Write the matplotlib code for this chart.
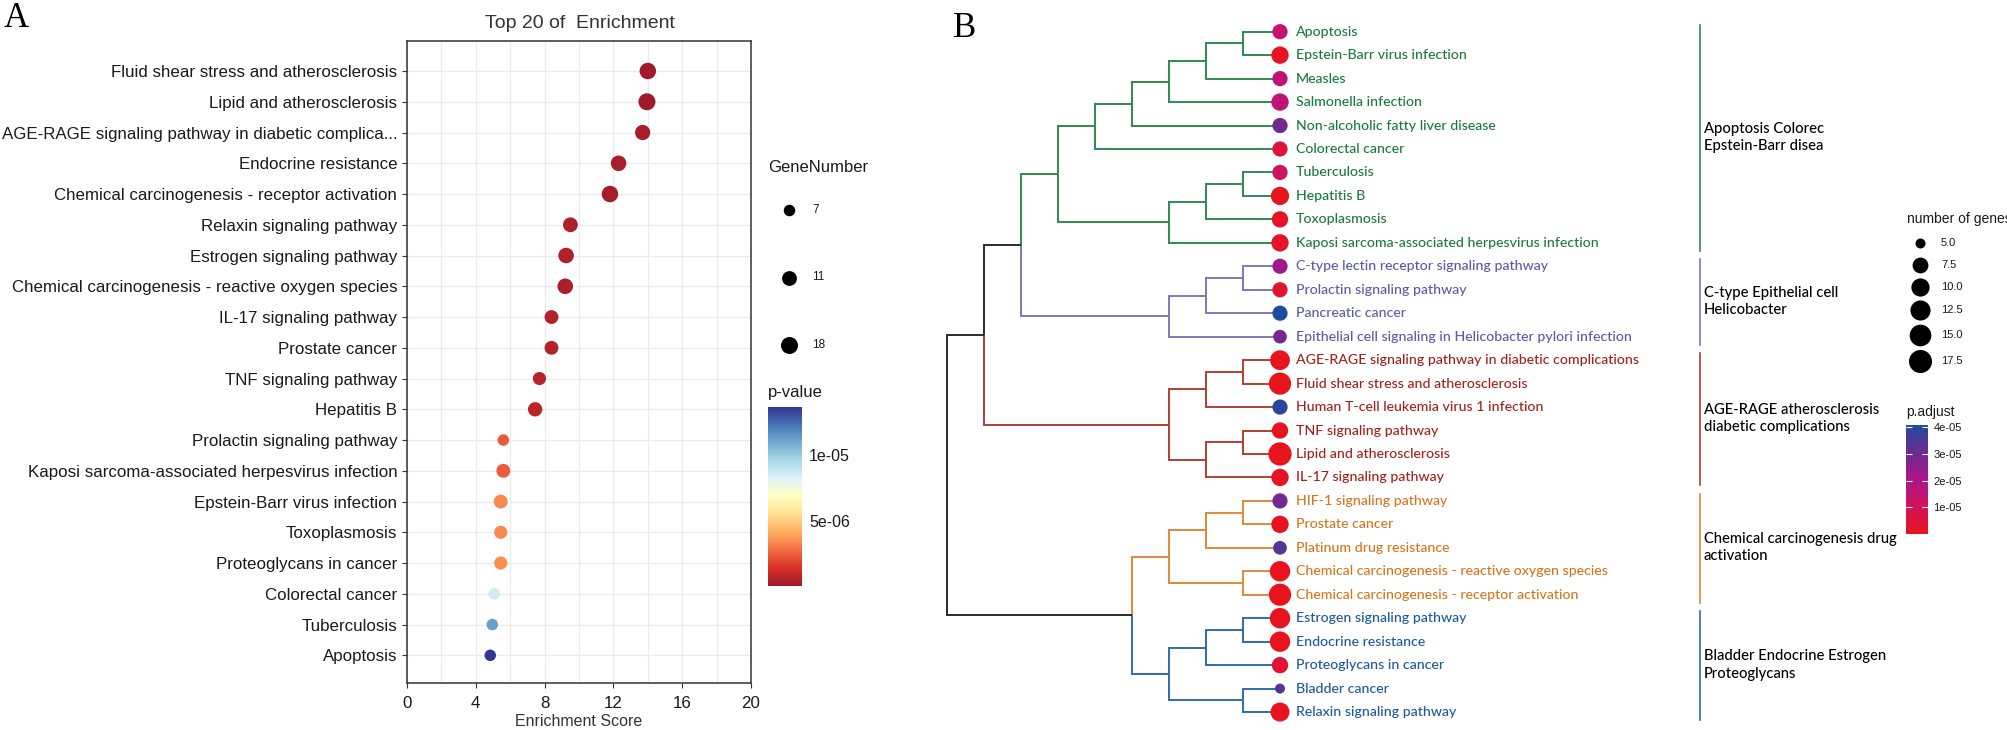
import numpy as np
import matplotlib
matplotlib.use("Agg")
import matplotlib.pyplot as plt
from matplotlib.colors import LinearSegmentedColormap, Normalize
from matplotlib.cm import ScalarMappable

W, H, DPI = 2007, 730, 100

# ---------------- Panel A data ----------------
terms_a = ["Fluid shear stress and atherosclerosis", "Lipid and atherosclerosis",
           "AGE-RAGE signaling pathway in diabetic complica...", "Endocrine resistance",
           "Chemical carcinogenesis - receptor activation", "Relaxin signaling pathway",
           "Estrogen signaling pathway", "Chemical carcinogenesis - reactive oxygen species",
           "IL-17 signaling pathway", "Prostate cancer", "TNF signaling pathway", "Hepatitis B",
           "Prolactin signaling pathway", "Kaposi sarcoma-associated herpesvirus infection",
           "Epstein-Barr virus infection", "Toxoplasmosis", "Proteoglycans in cancer",
           "Colorectal cancer", "Tuberculosis", "Apoptosis"]
score_a = [14.0, 13.95, 13.7, 12.3, 11.8, 9.5, 9.25, 9.2, 8.4, 8.4, 7.7, 7.45,
           5.6, 5.6, 5.45, 5.45, 5.45, 5.07, 4.96, 4.84]
pvalue_a = [1.0e-7, 1.5e-7, 3e-7, 4e-7, 3e-7, 5e-7, 5e-7, 4.5e-7, 6e-7, 6e-7, 7e-7, 8e-7,
            2.4e-6, 2.4e-6, 3.4e-6, 3.4e-6, 3.5e-6, 8.6e-6, 1.12e-5, 1.36e-5]
genes_a = [16, 18, 12, 13, 16, 11, 13, 13, 9, 9, 8, 10, 7, 9, 9, 8, 8, 7, 7, 7]
size_breaks_a = [7, 11, 18]
pvalue_ticks_a = [5e-06, 1e-05]
pvalue_ticklabels_a = ["5e-06", "1e-05"]
xticks_a = [0, 4, 8, 12, 16, 20]

# ---------------- Panel B data ----------------
leaves_b = ["Apoptosis", "Epstein-Barr virus infection", "Measles", "Salmonella infection",
            "Non-alcoholic fatty liver disease", "Colorectal cancer", "Tuberculosis",
            "Hepatitis B", "Toxoplasmosis", "Kaposi sarcoma-associated herpesvirus infection",
            "C-type lectin receptor signaling pathway", "Prolactin signaling pathway",
            "Pancreatic cancer", "Epithelial cell signaling in Helicobacter pylori infection",
            "AGE-RAGE signaling pathway in diabetic complications",
            "Fluid shear stress and atherosclerosis", "Human T-cell leukemia virus 1 infection",
            "TNF signaling pathway", "Lipid and atherosclerosis", "IL-17 signaling pathway",
            "HIF-1 signaling pathway", "Prostate cancer", "Platinum drug resistance",
            "Chemical carcinogenesis - reactive oxygen species",
            "Chemical carcinogenesis - receptor activation", "Estrogen signaling pathway",
            "Endocrine resistance", "Proteoglycans in cancer", "Bladder cancer",
            "Relaxin signaling pathway"]
genes_b = [7, 9, 7, 9, 7, 7, 7, 10, 8, 9,
           7, 7, 7, 6,
           12, 16, 7, 8, 18, 9,
           7, 9, 6, 13, 16,
           13, 13, 8, 5, 11]
padj_b = [1.4e-5, 8e-7, 1.5e-5, 1.6e-5, 2.9e-5, 5e-6, 1.15e-5, 5e-7, 2e-6, 2.5e-6,
          2.2e-5, 3e-6, 4.07e-5, 2.9e-5,
          3e-7, 1e-7, 3.9e-5, 9e-7, 2e-7, 1.2e-6,
          2.9e-5, 1e-6, 3.4e-5, 6e-7, 4e-7,
          6e-7, 4e-7, 4e-6, 3.4e-5, 6e-7]
cluster_of_leaf_b = [0] * 10 + [1] * 4 + [2] * 6 + [3] * 5 + [4] * 5
cluster_labels_b = ["Apoptosis Colorec\nEpstein-Barr disea",
                    "C-type Epithelial cell\nHelicobacter",
                    "AGE-RAGE atherosclerosis\ndiabetic complications",
                    "Chemical carcinogenesis drug\nactivation",
                    "Bladder Endocrine Estrogen\nProteoglycans"]
# hierarchical merges: (child a, child b, level); new node ids start at len(leaves_b)
merges_b = [(0, 1, 1), (30, 2, 2), (31, 3, 3), (32, 4, 4), (33, 5, 5),
            (6, 7, 1), (35, 8, 2), (36, 9, 3), (34, 37, 6),
            (10, 11, 1), (39, 12, 2), (40, 13, 3), (38, 41, 7),
            (14, 15, 1), (43, 16, 2), (17, 18, 1), (45, 19, 2), (44, 46, 3), (42, 47, 8),
            (20, 21, 1), (49, 22, 2), (23, 24, 1), (50, 51, 3),
            (25, 26, 1), (53, 27, 2), (28, 29, 1), (54, 55, 3), (52, 56, 4), (48, 57, 9)]
size_breaks_b = [5.0, 7.5, 10.0, 12.5, 15.0, 17.5]
padj_ticks_b = [1e-05, 2e-05, 3e-05, 4e-05]
padj_ticklabels_b = ["1e-05", "2e-05", "3e-05", "4e-05"]

# ---------------- styles ----------------
SANS = ["Liberation Sans", "DejaVu Sans"]
HUM = ["Lato", "DejaVu Sans"]
SERIF = ["Liberation Serif", "DejaVu Serif"]
line_colors_b = ["#2E8A50", "#7C7ABB", "#B23E33", "#E08A36", "#2D6DAD"]
text_colors_b = ["#1B7A3E", "#5B5BA5", "#A1221D", "#D4761E", "#1B5A9D"]
padj_cmap = LinearSegmentedColormap.from_list(
    "padj", [(0.0, "#E8141C"), (0.33, "#C8126C"), (0.55, "#A0198E"),
             (0.75, "#6A2D90"), (1.0, "#1F4B9E")])
cmap_a = LinearSegmentedColormap.from_list(
    "rdylbu_a", ["#9E1A2C", "#D73027", "#F46D43", "#FDAE61", "#FEE090", "#FFFFBF",
                 "#E0F3F8", "#ABD9E9", "#74ADD1", "#4575B4", "#313695"])

plt.rcParams["font.family"] = SANS

fig = plt.figure(figsize=(W / DPI, H / DPI), dpi=DPI)
fig.patch.set_facecolor("white")


def rect(x0, y0, x1, y1):
    return [x0 / W, 1 - y1 / H, (x1 - x0) / W, (y1 - y0) / H]


def pt2(d_px):
    return (d_px * 72.0 / DPI) ** 2


renderer = fig.canvas.get_renderer()


def fit_size(s, family, target_px, base=10.0, weight="normal"):
    t = fig.text(0, 0, s, fontsize=base, family=family, weight=weight)
    w = t.get_window_extent(renderer).width
    t.remove()
    return base * target_px / w


# pixel overlay for legends / labels
ax_px = fig.add_axes([0, 0, 1, 1])
ax_px.set_xlim(0, W)
ax_px.set_ylim(H, 0)
ax_px.axis("off")

# ================= Panel A =================
ax_a = fig.add_axes(rect(407, 41, 751, 683))
ya = np.arange(len(terms_a))
g_a = np.array(genes_a, float)
gmin_a, gmax_a = min(size_breaks_a), max(size_breaks_a)


def dia_a(g):
    return 11.5 + 5.5 * np.sqrt((np.asarray(g, float) - gmin_a) / (gmax_a - gmin_a))


norm_a = Normalize(min(pvalue_a), max(pvalue_a))
ax_a.scatter(score_a, ya, s=pt2(dia_a(g_a)), c=pvalue_a, cmap=cmap_a, norm=norm_a,
             linewidths=0, zorder=3)
ax_a.set_xlim(0, 20)
ax_a.set_ylim(19.9, -0.976)
ax_a.set_xticks(xticks_a)
ax_a.set_xticks(np.arange(2, 20, 4), minor=True)
ax_a.set_yticks(ya)
ax_a.set_yticklabels(terms_a)
ax_a.grid(which="both", axis="x", color="#EBEBEB", lw=0.9, zorder=0)
ax_a.grid(which="major", axis="y", color="#EBEBEB", lw=0.9, zorder=0)
ax_a.set_axisbelow(True)
for sp in ax_a.spines.values():
    sp.set_color("#333333")
    sp.set_linewidth(1.1)
ax_a.tick_params(which="major", length=3.5, width=0.8, color="#333333",
                 labelcolor="#1A1A1A", labelsize=12.2, pad=3.5)
ax_a.tick_params(axis="x", which="major", pad=5.5)
ax_a.tick_params(which="minor", length=0)
fig.text(580 / W, 1 - 24 / H, "Top 20 of  Enrichment", ha="center", va="center",
         fontsize=14, color="#333333")
fig.text(579 / W, 1 - 721 / H, "Enrichment Score", ha="center", va="center",
         fontsize=11.5, color="#333333")
fig.text(4 / W, 1 - 27 / H, "A", fontsize=25, family=SERIF, va="baseline", ha="left")

# size legend A
ax_px.text(768, 167, "GeneNumber", fontsize=12, va="center", ha="left", color="#1A1A1A")
for k, b in enumerate(size_breaks_a):
    yy = 210 + 67.5 * k
    ax_px.scatter([789], [yy], s=pt2(dia_a(b)), color="black", linewidths=0)
    ax_px.text(812, yy, str(b), fontsize=8.5, va="center", ha="left", color="#1A1A1A")

# colorbar A
cax_a = fig.add_axes(rect(768, 407, 802, 586))
cb_a = fig.colorbar(ScalarMappable(norm=norm_a, cmap=cmap_a), cax=cax_a)
cb_a.outline.set_visible(False)
cb_a.set_ticks(pvalue_ticks_a)
cb_a.set_ticklabels(pvalue_ticklabels_a)
cax_a.tick_params(length=0, labelsize=11.5, pad=5, labelcolor="#1A1A1A")
ax_px.text(768, 392, "p-value", fontsize=12, va="center", ha="left", color="#1A1A1A")

# ================= Panel B =================
ax_b = fig.add_axes([900 / W, 0, (W - 900) / W, 1])
ax_b.axis("off")
# level -> pixel: x = 1280 - 37*level ; leaf i -> y = 31.7 + 23.46*i
ax_b.set_xlim((1280 - 900) / 37.0, (1280 - W) / 37.0)
ax_b.set_ylim((H - 31.7) / 23.46, (0 - 31.7) / 23.46)

n = len(leaves_b)
node_x = {i: 0.0 for i in range(n)}
node_y = {i: float(i) for i in range(n)}
node_leaves = {i: {i} for i in range(n)}
children = {}
for k, (a, b, lev) in enumerate(merges_b):
    nid = n + k
    node_x[nid] = float(lev)
    node_y[nid] = (node_y[a] + node_y[b]) / 2.0
    node_leaves[nid] = node_leaves[a] | node_leaves[b]
    children[nid] = (a, b)


def node_color(nid):
    cl = {cluster_of_leaf_b[l] for l in node_leaves[nid]}
    return line_colors_b[cl.pop()] if len(cl) == 1 else "#2B2B2B"


for nid, (a, b) in children.items():
    for c in (a, b):
        ax_b.plot([node_x[nid], node_x[nid], node_x[c]], [node_y[nid], node_y[c], node_y[c]],
                  color=node_color(c), lw=1.4, solid_capstyle="butt",
                  solid_joinstyle="miter", zorder=1)

gmin_b, gmax_b = 5.0, 18.0


def dia_b(g):
    return 10.0 + 13.3 * np.sqrt((np.asarray(g, float) - gmin_b) / (gmax_b - gmin_b))


norm_b = Normalize(min(padj_b), max(padj_b))
yb = np.arange(n)
ax_b.scatter(np.zeros(n), yb, s=pt2(dia_b(genes_b)), c=padj_b, cmap=padj_cmap,
             norm=norm_b, linewidths=0, zorder=3)

WB = 500
fs_leaf = fit_size(leaves_b[9], HUM, 303, weight=WB)
x_lab = (1280 - 1296) / 37.0
for i, lab in enumerate(leaves_b):
    ax_b.text(x_lab, i, lab, fontsize=fs_leaf, family=HUM, weight=WB, va="center",
              ha="left", color=text_colors_b[cluster_of_leaf_b[i]])

fs_cl = fit_size("Chemical carcinogenesis drug", HUM, 193, weight=WB)
x_bar = (1280 - 1700) / 37.0
x_cl = (1280 - 1704) / 37.0
for c, lab in enumerate(cluster_labels_b):
    idx = [i for i in range(n) if cluster_of_leaf_b[i] == c]
    i0, i1 = min(idx), max(idx)
    ax_b.plot([x_bar, x_bar], [i0 - 0.3, i1 + 0.34], color=line_colors_b[c], lw=1.2)
    ax_b.text(x_cl, (i0 + i1) / 2.0, lab, fontsize=fs_cl, family=HUM, weight=WB,
              va="center", ha="left", color="black", linespacing=1.3)

fig.text(953 / W, 1 - 37 / H, "B", fontsize=25, family=SERIF, va="baseline", ha="left")

# size legend B
ax_px.text(1907, 219, "number of genes", fontsize=10, va="center", ha="left",
           color="#1A1A1A", clip_on=False)
dB = dia_b(size_breaks_b)
ys = [243.0]
for k in range(len(dB) - 1):
    ys.append(ys[-1] + max(22.0, (dB[k] + dB[k + 1]) / 2 + 4))
for k, b in enumerate(size_breaks_b):
    ax_px.scatter([1920], [ys[k]], s=pt2(dB[k]), color="black", linewidths=0)
    ax_px.text(1941, ys[k], f"{b:.1f}", fontsize=8, va="center", ha="left", color="#1A1A1A")

# colorbar B
cax_b = fig.add_axes(rect(1906, 425, 1928, 534))
cb_b = fig.colorbar(ScalarMappable(norm=norm_b, cmap=padj_cmap), cax=cax_b)
cb_b.outline.set_visible(False)
cb_b.set_ticks(padj_ticks_b)
cb_b.set_ticklabels(padj_ticklabels_b)
cax_b.tick_params(left=True, right=True, labelleft=False, labelright=True,
                  direction="in", length=4, width=0.8, color="white",
                  labelsize=8, pad=4, labelcolor="#1A1A1A")
ax_px.text(1906, 412, "p.adjust", fontsize=10, va="center", ha="left", color="#1A1A1A")

fig.savefig("out.png", dpi=DPI, facecolor="white")
